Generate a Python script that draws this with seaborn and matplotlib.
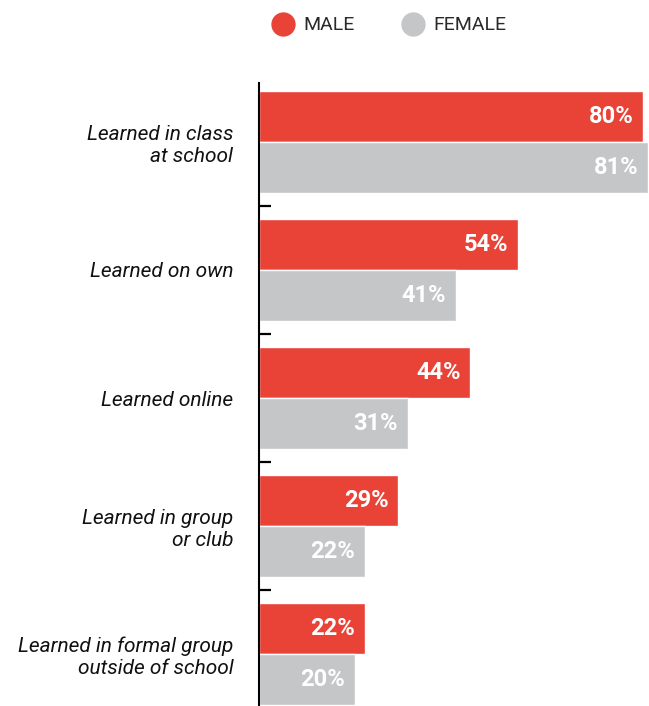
import pandas as pd
import matplotlib.pyplot as plt
import seaborn as sns
from matplotlib.lines import Line2D

# data
categories = ['Learned in class\nat school', 'Learned on own', 'Learned online',
              'Learned in group\nor club', 'Learned in formal group\noutside of school']
male = [80, 54, 44, 29, 22]
female = [81, 41, 31, 22, 20]
genders = ['MALE', 'FEMALE']
colors = ['#E94337', '#C5C6C8']

df = pd.DataFrame({
    'category': categories * 2,
    'value': male + female,
    'gender': ['MALE'] * len(male) + ['FEMALE'] * len(female),
})

sns.set_style('white')
plt.rcParams['font.family'] = ['Roboto', 'DejaVu Sans']

fig = plt.figure(figsize=(6.49, 7.06), dpi=100)
ax = fig.add_axes([259 / 649, 0, 390 / 649, 623 / 706])

sns.barplot(data=df, y='category', x='value', hue='gender', hue_order=genders,
            palette=colors, orient='h', width=0.8, saturation=1, legend=False,
            edgecolor='white', linewidth=1, ax=ax)

ax.set_xlim(0, 81.25)
ax.set_ylim(4.405, -0.46)

for cont in ax.containers:
    for p in cont:
        w = p.get_width()
        ax.annotate(f'{w:.0f}%', xy=(w, p.get_y() + p.get_height() / 2),
                    xytext=(-7, 0), textcoords='offset points',
                    ha='right', va='center', color='white',
                    fontsize=17, fontweight='bold')

for s in ['top', 'right', 'bottom']:
    ax.spines[s].set_visible(False)
ax.spines['left'].set_linewidth(1.5)
ax.spines['left'].set_color('black')

ax.set_xticks([])
ax.set_xlabel('')
ax.set_ylabel('')
ax.set_yticks(range(len(categories)))
ax.set_yticklabels(categories, fontsize=15, fontstyle='italic', color='#111111')
ax.tick_params(axis='y', which='major', left=False, length=0, pad=18.5)
ax.set_yticks([0.5, 1.5, 2.5, 3.5], minor=True)
ax.tick_params(axis='y', which='minor', left=True, direction='in', length=8.5,
               width=1.6, color='black')

handles = [Line2D([], [], marker='o', linestyle='', markersize=16.5, color=c)
           for c in colors]
fig.legend(handles, genders, loc='center', bbox_to_anchor=(0.600, 0.964),
           ncol=2, frameon=False, handlelength=1.0,
           handletextpad=0.55, columnspacing=2.5, labelcolor='#2a2a2a',
           prop={'weight': 'normal', 'size': 14})

fig.savefig('out.png', dpi=100)
